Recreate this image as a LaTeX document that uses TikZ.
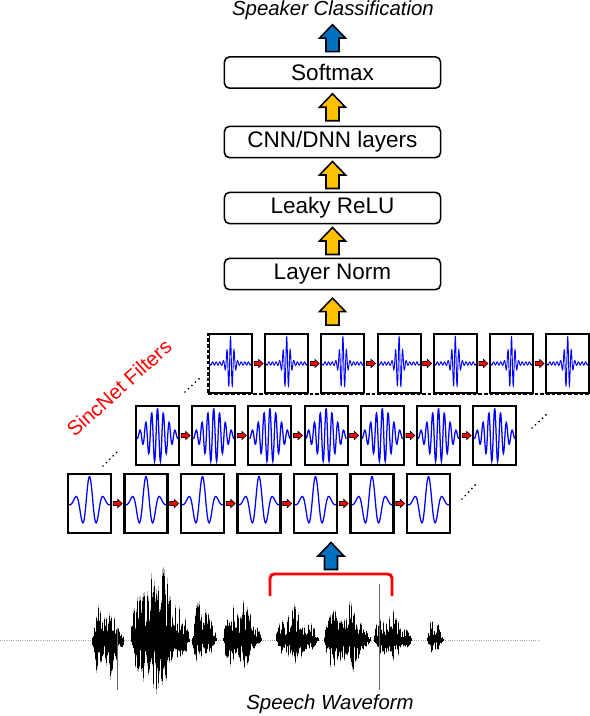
\documentclass[tikz,border=0pt]{standalone}
\usepackage{fontspec}
\setmainfont{Liberation Sans}
\usetikzlibrary{calc}
\definecolor{upblue}{RGB}{0,112,192}
\definecolor{upyellow}{RGB}{255,192,0}
\tikzset{
  stage/.style={draw,rounded corners=3.5pt,line width=1.1pt,minimum width=5.4cm,minimum height=0.78cm,inner sep=0pt,font=\fontsize{16}{19}\selectfont},
  caption/.style={font=\fontsize{14.5}{17}\selectfont\itshape},
  filt/.style={draw,fill=white,line width=1.5pt,minimum width=1.075cm,minimum height=1.48cm,inner sep=0pt},
  wave/.style={blue,line width=0.9pt},
  dots/.style={line width=1.4pt,line cap=round,dash pattern=on 0pt off 3.4pt},
  blockup/.pic={\path[pic actions,line width=1.1pt] (-6.5,13.5) -- (-6.5,0) -- (-13,0) -- (0,-13.5) -- (13,0) -- (6.5,0) -- (6.5,13.5) -- cycle;},
  blockright/.pic={\path[draw,fill=red,line width=0.4pt] (-4.5,-2) -- (0,-2) -- (0,-4.2) -- (4.5,0) -- (0,4.2) -- (0,2) -- (-4.5,2) -- cycle;},
}
\begin{document}
\begin{tikzpicture}[x=0.025cm,y=-0.025cm]
\useasboundingbox (0,0) rectangle (590,716);
% classifier stack
\node[stage] (softmax) at (332.5,72.5) {Softmax};
\node[stage] (cnn) at (332.5,142) {CNN/DNN layers};
\node[stage] (relu) at (332.5,208) {Leaky ReLU};
\node[stage] (ln) at (332.5,274) {Layer Norm};
\node[caption] (spk) at (333,10) {Speaker Classification};

\pic[draw,fill=upblue] at ($(softmax.north)+(0,-18)$) {blockup};
\pic[draw,fill=upyellow] at ($(softmax.south)!0.5!(cnn.north)$) {blockup};
\pic[draw,fill=upyellow] at ($(cnn.south)!0.5!(relu.north)$) {blockup};
\pic[draw,fill=upyellow] at ($(relu.south)!0.5!(ln.north)$) {blockup};

% sincnet filter banks
\foreach \i in {1,...,7}{
  \node[filt] (lo-\i) at ({89.5+56.5*(\i-1)},503.5) {};
  \node[filt] (md-\i) at ({157.5+56.2*(\i-1)},435.5) {};
  \node[filt] (hi-\i) at ({230.5+56.2*(\i-1)},363.5) {};
  \begin{scope}[shift={(lo-\i.center)}]
    \draw[wave] plot[domain=-1:1,samples=60,smooth] ({20.5*\x},{-27*cos(deg(9.1*\x))*exp(-(\x)^2/0.334)});
  \end{scope}
  \begin{scope}[shift={(md-\i.center)}]
    \draw[wave] plot[domain=-1:1,samples=120,smooth] ({20.5*\x},{-27*cos(deg(22*\x))*exp(-(\x)^2/0.45)});
  \end{scope}
  \begin{scope}[shift={(hi-\i.center)}]
    \draw[wave,line width=0.65pt] plot[domain=-1:1,samples=240] ({20.5*\x},{-27*cos(deg(36*\x))*(0.94*exp(-(\x)^2/0.04)+0.06)});
  \end{scope}
}
\foreach \i [count=\j from 2] in {1,...,6}{
  \pic at ($(lo-\i.east)!0.5!(lo-\j.west)$) {blockright};
  \pic at ($(md-\i.east)!0.5!(md-\j.west)$) {blockright};
  \pic at ($(hi-\i.east)!0.5!(hi-\j.west)$) {blockright};
}
\draw[white,line width=2pt] (hi-1.north west) -- (hi-1.south west);
\draw[line width=1pt,dash pattern=on 2.5pt off 1.5pt] (hi-1.north west) -- (hi-1.south west) -- (hi-7.south east);
\pic[draw,fill=upyellow] at ($(ln.south)!0.5!(ln.south |- hi-1.north)$) {blockup};

\draw[dots] (462,499) -- (477,483);
\draw[dots] (532,428) -- (548,413);
\draw[dots] (103,466) -- (119,450);
\draw[dots] (185,392) -- (202,376);
\node[red,rotate=42,font=\fontsize{14.5}{17}\selectfont] (sinc) at (119,388) {SincNet Filters};

% speech waveform
\draw[gray!70,densely dotted,line width=0.6pt] (0,640) -- (540,640);
\foreach \sc/\col in {1.1/gray!60,1/black}{
  \pgfmathsetseed{11}
  \foreach \xa/\xb/\up/\dn/\ph in {92/124/40/48/20, 131/190/83/58/70, 192/217/43/24/10, 223/262/45/30/40, 276/319/34/24/90, 324/371/43/36/30, 374/412/30/24/60, 427/444/20/14/0}{
    \pgfmathtruncatemacro\n{2*(\xb-\xa)}
    \foreach \k in {0,...,\n}{
      \pgfmathsetmacro\t{\k/\n}
      \pgfmathsetmacro\env{abs(sin(180*(\t)^0.7))^0.8*(0.55+0.45*abs(sin(400*\t+\ph)))}
      \pgfmathsetmacro\ha{\sc*\up*\env*(0.2+0.8*rnd^1.7)}
      \pgfmathsetmacro\hb{\sc*\dn*\env*(0.2+0.8*rnd^1.7)}
      \draw[\col,line width=0.5pt] (\xa+\k/2,640-\ha) -- (\xa+\k/2,640+\hb);
    }
  }
}
\draw[gray!80!black,line width=0.5pt] (379,584) -- (379,690);
\draw[gray!80!black,line width=0.5pt] (117,628) -- (117,690);
\draw[red,line width=2.1pt,rounded corners=3pt] (270,596) -- (270,574) -- (392,574) -- (392,596);
\pic[draw,fill=upblue] at (331,556) {blockup};
\node[caption] (speech) at (330,704) {Speech Waveform};
\end{tikzpicture}
\end{document}
